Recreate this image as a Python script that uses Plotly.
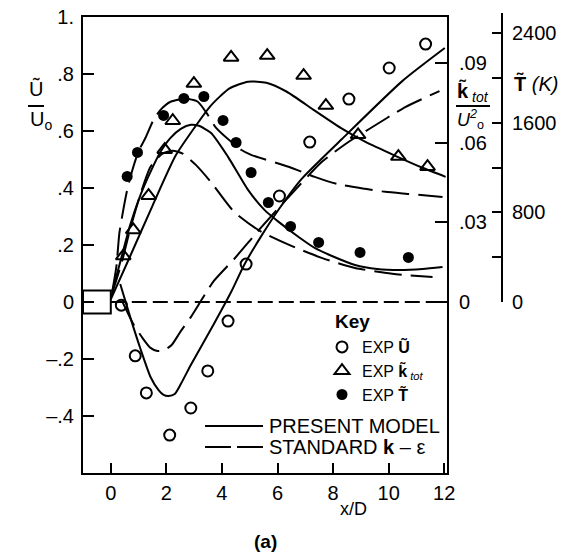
import plotly.graph_objects as go

# ---------------- data ----------------
# experimental mean axial velocity U/Uo
x_u_exp = [0.38, 0.88, 1.28, 2.12, 2.88, 3.49, 4.22, 4.87, 6.07, 7.16, 8.57, 10.02, 11.33]
u_exp = [-0.011, -0.189, -0.319, -0.467, -0.372, -0.242, -0.067, 0.133, 0.372, 0.561, 0.712, 0.821, 0.905]

# experimental turbulent kinetic energy k_tot/Uo^2
x_k_exp = [0.45, 0.81, 1.36, 1.94, 2.23, 2.99, 4.33, 5.63, 6.94, 7.74, 8.90, 10.35, 11.40]
k_exp = [0.0173, 0.0271, 0.0400, 0.0573, 0.0682, 0.0822, 0.0920, 0.0927, 0.0852, 0.0739, 0.0629, 0.0547, 0.0509]

# experimental temperature T (K)
x_t_exp = [0.59, 0.96, 1.90, 2.63, 3.35, 4.04, 4.51, 5.05, 5.67, 6.47, 7.48, 8.97, 10.71]
t_exp = [1122, 1336, 1667, 1819, 1836, 1622, 1425, 1157, 889, 675, 532, 443, 398]

# present model
x_u_model = [0.34, 0.70, 1.07, 1.43, 1.72, 1.90, 2.08, 2.30, 2.52, 2.88, 3.71, 4.33, 4.80, 5.42, 6.03, 6.87, 8.32, 10.49, 12.02]
u_model = [0.063, -0.053, -0.165, -0.263, -0.309, -0.326, -0.330, -0.323, -0.288, -0.221, -0.077, 0.035, 0.130, 0.232, 0.323, 0.432, 0.572, 0.775, 0.891]

x_k_model = [0.0, 0.70, 1.50, 2.33, 3.06, 3.60, 4.26, 4.94, 5.60, 6.32, 7.34, 8.32, 9.15, 10.24, 11.22, 12.05]
k_model = [0.001, 0.0173, 0.0362, 0.0550, 0.0663, 0.0739, 0.0803, 0.0829, 0.0825, 0.0792, 0.0720, 0.0652, 0.0603, 0.0550, 0.0505, 0.0471]

x_t_model = [0.05, 0.34, 0.70, 1.07, 1.43, 1.79, 2.15, 2.52, 2.88, 3.17, 3.60, 4.22, 4.94, 5.53, 6.04, 6.76, 7.34, 7.96, 8.79, 9.59, 10.39, 11.22, 11.94]
t_model = [89, 358, 689, 957, 1163, 1342, 1467, 1547, 1583, 1574, 1512, 1297, 1002, 823, 716, 581, 483, 411, 331, 295, 286, 295, 313]

# standard k-epsilon model
x_u_std = [0.40, 0.81, 1.17, 1.43, 1.68, 1.94, 2.19, 2.52, 2.88, 3.71, 4.44, 5.42, 6.50, 7.59, 8.50, 9.30, 10.60, 11.83]
u_std = [0.005, -0.077, -0.130, -0.161, -0.172, -0.168, -0.151, -0.102, -0.053, 0.074, 0.151, 0.263, 0.379, 0.491, 0.558, 0.607, 0.684, 0.740]

x_k_std = [0.01, 0.41, 0.70, 1.07, 1.43, 1.86, 2.23, 2.59, 3.06, 3.60, 4.44, 5.42, 6.50, 7.59, 8.79, 10.13, 11.58]
k_std = [0.0019, 0.0155, 0.0275, 0.0407, 0.0509, 0.0558, 0.0569, 0.0558, 0.0516, 0.0452, 0.0339, 0.0264, 0.0211, 0.0166, 0.0128, 0.0106, 0.0094]

x_t_std = [0.05, 0.20, 0.31, 0.45, 0.59, 0.78, 0.99, 1.25, 1.54, 1.79, 2.15, 2.70, 3.13, 3.49, 3.79, 4.69, 5.05, 6.40, 7.34, 8.14, 9.15, 9.88, 10.68, 11.94]
t_std = [89, 313, 617, 823, 1002, 1181, 1342, 1467, 1628, 1717, 1789, 1816, 1789, 1673, 1556, 1360, 1315, 1208, 1118, 1055, 1011, 984, 966, 939]

# axis ticks
x_ticks = [0, 2, 4, 6, 8, 10, 12]
x_ticktext = ["0", "2", "4", "6", "8", "10", "12"]
u_ticks = [-0.4, -0.2, 0, 0.2, 0.4, 0.6, 0.8, 1.0]
u_ticktext = ["\u2013.4", "\u2013.2", "0", ".2", ".4", ".6", ".8", "1."]
k_ticks = [0, 0.03, 0.06, 0.09]
k_ticktext = ["0", ".03", ".06", ".09"]
t_ticks = [0, 400, 800, 1200, 1600, 2000, 2400]
t_ticktext = ["0", "", "800", "", "1600", "", "2400"]

# ---------------- layout geometry ----------------
W_FIG, H_FIG = 569, 555
ML, MR, MT, MB = 83, 30, 10, 82
PW = W_FIG - ML - MR
PH = H_FIG - MT - MB


def PX(px):
    return (px - ML) / PW


def PY(py):
    return (H_FIG - MB - py) / PH


FONT = "Liberation Sans, Arial, Helvetica, sans-serif"
BLACK = "black"
LW = 2
DASH = "28px,9px"

fig = go.Figure()

# model curves
fig.add_trace(go.Scatter(x=x_u_model, y=u_model, mode="lines", yaxis="y",
                         line=dict(color=BLACK, width=LW, shape="spline", smoothing=0.6), showlegend=False))
fig.add_trace(go.Scatter(x=x_u_std, y=u_std, mode="lines", yaxis="y",
                         line=dict(color=BLACK, width=LW, shape="spline", smoothing=0.6, dash=DASH), showlegend=False))
fig.add_trace(go.Scatter(x=x_k_model, y=k_model, mode="lines", yaxis="y2",
                         line=dict(color=BLACK, width=LW, shape="spline", smoothing=0.6), showlegend=False))
fig.add_trace(go.Scatter(x=x_k_std, y=k_std, mode="lines", yaxis="y2",
                         line=dict(color=BLACK, width=LW, shape="spline", smoothing=0.6, dash=DASH), showlegend=False))
fig.add_trace(go.Scatter(x=x_t_model, y=t_model, mode="lines", yaxis="y3",
                         line=dict(color=BLACK, width=LW, shape="spline", smoothing=0.6), showlegend=False))
fig.add_trace(go.Scatter(x=x_t_std, y=t_std, mode="lines", yaxis="y3",
                         line=dict(color=BLACK, width=LW, shape="spline", smoothing=0.6, dash=DASH), showlegend=False))

# experiments
fig.add_trace(go.Scatter(x=x_u_exp, y=u_exp, mode="markers", yaxis="y",
                         name="EXP <b>\u0168</b>",
                         marker=dict(symbol="circle-open", size=11, color=BLACK, line=dict(width=2, color=BLACK))))
fig.add_trace(go.Scatter(x=x_k_exp, y=k_exp, mode="markers", yaxis="y2",
                         name="EXP <b>k\u0303</b><i><sub> tot</sub></i>",
                         marker=dict(symbol="triangle-up-open", size=13, color=BLACK, line=dict(width=2, color=BLACK))))
fig.add_trace(go.Scatter(x=x_t_exp, y=t_exp, mode="markers", yaxis="y3",
                         name="EXP <b>T\u0303</b>",
                         marker=dict(symbol="circle", size=11, color=BLACK)))

axis_common = dict(showgrid=False, zeroline=False, showline=True, linecolor=BLACK, linewidth=LW,
                   ticks="inside", tickcolor=BLACK, tickwidth=LW, automargin=False,
                   tickfont=dict(family=FONT, size=20, color=BLACK))

fig.update_layout(
    width=W_FIG, height=H_FIG,
    margin=dict(l=ML, r=MR, t=MT, b=MB, pad=0, autoexpand=False),
    paper_bgcolor="white", plot_bgcolor="rgba(0,0,0,0)",
    font=dict(family=FONT, size=18, color=BLACK),
    xaxis=dict(domain=[0, PX(447)], range=[-1, 12.1], anchor="y", mirror=True,
               tickmode="array", tickvals=x_ticks, ticktext=x_ticktext, ticklen=10,
               ticklabelstandoff=1, **axis_common),
    yaxis=dict(domain=[0, PY(17)], range=[-0.6, 1.0], anchor="x",
               tickmode="array", tickvals=u_ticks, ticktext=u_ticktext, ticklen=11,
               ticklabelstandoff=3, **axis_common),
    yaxis2=dict(overlaying="y", side="right", anchor="x",
                range=[-0.6 * 0.10723, 1.0 * 0.10723],
                tickmode="array", tickvals=k_ticks, ticktext=k_ticktext, ticklen=12,
                ticklabelstandoff=6, **axis_common),
    yaxis3=dict(domain=[PY(302), PY(13)], anchor="free", position=PX(502), side="right",
                range=[0, 2582],
                tickmode="array", tickvals=t_ticks, ticktext=t_ticktext, ticklen=9,
                ticklabelstandoff=5, **axis_common),
    legend=dict(x=PX(322), y=PY(330), xanchor="left", yanchor="top",
                bgcolor="rgba(0,0,0,0)", borderwidth=0, tracegroupgap=0,
                font=dict(family=FONT, size=16, color=BLACK), itemwidth=30),
)

shapes = []
# centreline (U = 0) and nozzle
shapes.append(dict(type="line", xref="x", yref="y", x0=0, x1=12.1, y0=0, y1=0,
                   line=dict(color=BLACK, width=LW, dash="15px,6px")))
shapes.append(dict(type="rect", xref="x", yref="y", x0=-1, x1=0, y0=-0.04, y1=0.04,
                   line=dict(color=BLACK, width=LW)))
# key line samples
shapes.append(dict(type="line", xref="paper", yref="paper", x0=PX(205), x1=PX(263), y0=PY(426), y1=PY(426),
                   line=dict(color=BLACK, width=LW)))
shapes.append(dict(type="line", xref="paper", yref="paper", x0=PX(205), x1=PX(263), y0=PY(447), y1=PY(447),
                   line=dict(color=BLACK, width=LW, dash="26px,6px")))
# fraction bars of axis titles
shapes.append(dict(type="line", xref="paper", yref="paper", x0=PX(28), x1=PX(44), y0=PY(106), y1=PY(106),
                   line=dict(color=BLACK, width=LW)))
shapes.append(dict(type="line", xref="paper", yref="paper", x0=PX(456), x1=PX(490), y0=PY(106), y1=PY(106),
                   line=dict(color=BLACK, width=LW)))
fig.update_layout(shapes=shapes)


def ann(text, px, py, size=18, xanchor="center", yanchor="middle"):
    return dict(text=text, x=PX(px), y=PY(py), xref="paper", yref="paper", showarrow=False,
                xanchor=xanchor, yanchor=yanchor, font=dict(family=FONT, size=size, color=BLACK))


annotations = [
    ann("<b>Key</b>", 333, 321, size=19, xanchor="left"),
    ann("PRESENT MODEL", 267, 426, size=20, xanchor="left"),
    ann("STANDARD <b>k</b> \u2013 \u03b5", 267, 447, size=20, xanchor="left"),
    ann("x/D", 353, 509, size=18),
    ann("<b>(a)</b>", 265, 541, size=19),
    ann("\u0168", 36, 88, size=20),
    ann("U<sub>o</sub>", 41, 121, size=20),
    ann("<b>k\u0303</b><i><sub> tot</sub></i>", 455, 92, size=20, xanchor="left"),
    ann("<i>U<sup>2</sup></i><sub>o</sub>", 455, 119, size=18, xanchor="left"),
    ann("<b>T\u0303</b> <i>(K)</i>", 512, 83, size=20, xanchor="left"),
]
fig.update_layout(annotations=annotations)

fig.write_html("out.html")
